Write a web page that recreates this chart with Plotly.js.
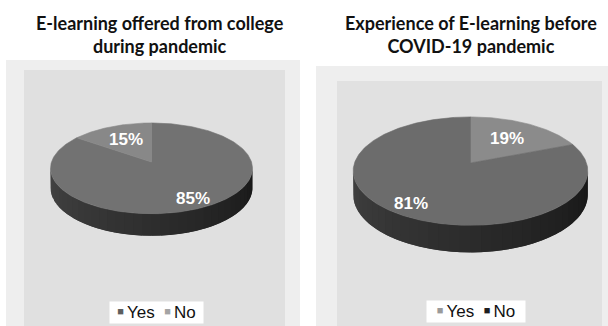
<!DOCTYPE html>
<html><head><meta charset="utf-8">
<script src="https://cdn.plot.ly/plotly-3.0.1.min.js"></script>
<style>html,body{margin:0;padding:0;background:#fff;}#chart{width:608px;height:326px;}</style>
</head><body><div id="chart"></div>
<script>
// ---- data ----
const categories = ['Yes', 'No'];
const offeredValues = [85, 15];
const experienceValues = [19, 81];
const offeredTitle = ['E-learning offered from college', 'during pandemic'];
const experienceTitle = ['Experience of E-learning before', 'COVID-19 pandemic'];
const offeredColors = ['#727272', '#888888'];
const experienceColors = ['#8b8b8b', '#6c6c6c'];
const offeredLegendColors = ['#5e5e5e', '#a4a4a4'];
const experienceLegendColors = ['#9a9a9a', '#1e1e1e'];

// ---- layout / style ----
const pies = [
  {values: offeredValues, colors: offeredColors, legendColors: offeredLegendColors, title: offeredTitle,
   geo: {cx: 151.5, cy: 162, R: 100, Rb: 44.5, p: 0.14, D: 19},
   titleX: 160, legendX: 156.5, legendY: 312.5, legendW: 93},
  {values: experienceValues, colors: experienceColors, legendColors: experienceLegendColors, title: experienceTitle,
   geo: {cx: 470.5, cy: 163, R: 116, Rb: 53, p: 0.15, D: 23},
   titleX: 471, legendX: 476, legendY: 311, legendW: 98}
];

const DEG = Math.PI / 180;
function proj(g, r, t, dz) {
  const u = r * Math.cos(t), v = r * Math.sin(t);
  const s = 1 / (1 - g.p * v);
  return [g.cx + g.R * u * s, g.cy + g.Rb * v * s + (dz || 0) * s];
}
function hex(c) { const n = parseInt(c.slice(1), 16); return [(n >> 16) & 255, (n >> 8) & 255, n & 255]; }
function rgb(a) { return 'rgb(' + a.map(v => Math.round(v)).join(',') + ')'; }

const traces = [];
const annotations = [];

pies.forEach((pie, pi) => {
  const g = pie.geo;
  const total = pie.values.reduce((a, b) => a + b, 0);
  const ranges = [];
  let cum = 0;
  pie.values.forEach(v => {
    const t0 = (-90 + 360 * cum / total) * DEG;
    const t1 = (-90 + 360 * (cum + v) / total) * DEG;
    ranges.push([t0, t1]);
    cum += v;
  });
  let tR = 0, tL = Math.PI, maxX = -1e9, minX = 1e9;
  for (let i = 0; i < 720; i++) {
    const t = (-90 + i * 0.5) * DEG;
    const x = proj(g, 1, t)[0];
    if (x > maxX) { maxX = x; tR = t; }
    if (x < minX) { minX = x; tL = t; }
  }
  while (tR < -90 * DEG) tR += 2 * Math.PI;
  while (tL < tR) tL += 2 * Math.PI;
  // side strips (overlapping to avoid seams)
  const N = 36;
  const step = (tL - tR) / N;
  ranges.forEach((rg, si) => {
    const base = hex(pie.colors[si]);
    for (let k = 0; k < N; k++) {
      const a = tR + k * step, b = a + step * (k < N - 1 ? 2 : 1);
      const lo = Math.max(a, rg[0]), hi = Math.min(b, rg[1]);
      const lo2 = Math.max(a, rg[0] + 2 * Math.PI), hi2 = Math.min(b, rg[1] + 2 * Math.PI);
      [[lo, hi], [lo2, hi2]].forEach(([l, h]) => {
        if (h - l <= 1e-6) return;
        const xs = [], ys = [];
        const m = 8;
        for (let j = 0; j <= m; j++) { const p = proj(g, 1, l + (h - l) * j / m); xs.push(p[0]); ys.push(p[1]); }
        for (let j = m; j >= 0; j--) { const p = proj(g, 1, l + (h - l) * j / m, g.D); xs.push(p[0]); ys.push(p[1]); }
        const f = (a + step / 2 - tR) / (tL - tR);
        const shade = 0.2 + 0.4 * f;
        const col = rgb(base.map(c => c * shade));
        traces.push({type: 'scatter', x: xs, y: ys, mode: 'lines', fill: 'toself', fillcolor: col,
          line: {width: 0}, hoverinfo: 'skip', showlegend: false});
      });
    }
  });
  // top faces
  ranges.forEach((rg, si) => {
    const xs = [g.cx], ys = [g.cy];
    const m = Math.max(8, Math.ceil((rg[1] - rg[0]) / DEG));
    for (let j = 0; j <= m; j++) { const p = proj(g, 1, rg[0] + (rg[1] - rg[0]) * j / m); xs.push(p[0]); ys.push(p[1]); }
    xs.push(g.cx); ys.push(g.cy);
    traces.push({type: 'scatter', x: xs, y: ys, mode: 'lines', fill: 'toself', fillcolor: pie.colors[si],
      line: {width: 0.6, color: pie.colors[si]}, name: categories[si],
      hovertext: categories[si] + ': ' + pie.values[si] + '%', hoverinfo: 'text', showlegend: false});
    const frac = pie.values[si] / total;
    const r = frac < 0.5 ? 0.6 : 0.82;
    const lp = proj(g, r, (rg[0] + rg[1]) / 2);
    annotations.push({x: lp[0], y: lp[1], xref: 'x', yref: 'y', showarrow: false,
      text: '<b>' + Math.round(100 * frac) + '%</b>',
      font: {family: 'Liberation Sans, Arial, sans-serif', size: 17, color: '#ffffff'}});
  });
  // title
  annotations.push({x: pie.titleX, y: 34, xref: 'x', yref: 'y', showarrow: false,
    xanchor: 'center', yanchor: 'middle',
    text: '<b>' + pie.title.join('<br>') + '</b>',
    font: {family: 'Lato, sans-serif', size: 18, color: '#111111'}});
  // legend
  const items = categories.map((c, i) =>
    '<span style="color:' + pie.legendColors[i] + ';font-size:11px;baseline-shift:3px">\u25A0\u00a0</span>' + c);
  annotations.push({x: pie.legendX, y: pie.legendY, xref: 'x', yref: 'y', showarrow: false,
    xanchor: 'center', yanchor: 'middle', width: pie.legendW, height: 21, borderpad: 0,
    bgcolor: '#ffffff', align: 'center', valign: 'middle',
    text: items.join('\u00a0\u00a0'),
    font: {family: 'Liberation Sans, Arial, sans-serif', size: 17, color: '#111111'}});
});

const shapes = [
  {type: 'rect', xref: 'x', yref: 'y', x0: 6, x1: 300, y0: 60, y1: 326, fillcolor: '#eeeeee', line: {width: 0}, layer: 'below'},
  {type: 'rect', xref: 'x', yref: 'y', x0: 316, x1: 608, y0: 66, y1: 326, fillcolor: '#eeeeee', line: {width: 0}, layer: 'below'},
  {type: 'rect', xref: 'x', yref: 'y', x0: 24, x1: 285, y0: 70, y1: 326, fillcolor: '#e0e0e0', line: {width: 0}, layer: 'below'},
  {type: 'rect', xref: 'x', yref: 'y', x0: 337, x1: 602, y0: 81, y1: 326, fillcolor: '#e1e1e1', line: {width: 0}, layer: 'below'}
];

const layout = {
  width: 608, height: 326,
  margin: {l: 0, r: 0, t: 0, b: 0, pad: 0},
  paper_bgcolor: '#ffffff', plot_bgcolor: 'rgba(0,0,0,0)',
  xaxis: {range: [0, 608], visible: false, fixedrange: true},
  yaxis: {range: [326, 0], visible: false, fixedrange: true},
  showlegend: false,
  shapes: shapes,
  annotations: annotations
};

Plotly.newPlot('chart', traces, layout, {displayModeBar: false, staticPlot: true});
</script>
</body></html>
